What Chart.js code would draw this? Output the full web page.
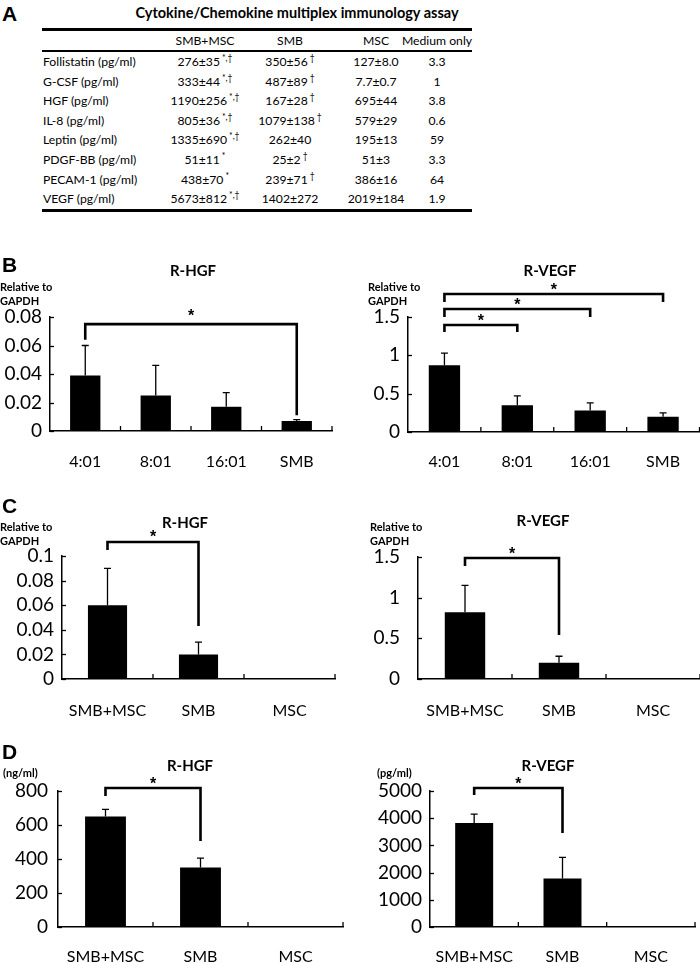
<!DOCTYPE html>
<html><head><meta charset="utf-8">
<script src="https://cdn.jsdelivr.net/npm/chart.js@4.4.0/dist/chart.umd.min.js"></script>
<style>
html,body{margin:0;padding:0;background:#fff;}
body{width:700px;height:963px;position:relative;overflow:hidden;font-family:Lato,'Open Sans',sans-serif;color:#000;}
.t{position:absolute;white-space:nowrap;z-index:2;line-height:1;}
.c{transform:translate(-50%,-50%);}
.m{transform:translateY(-50%);}
.letter{font-family:'Liberation Sans',Arial,sans-serif;font-weight:bold;font-size:21px;}
.ttl{font-weight:bold;font-size:15px;}
.ttlA{font-weight:bold;font-size:14.5px;}
.unit{font-weight:bold;font-size:11px;line-height:14px;}
.cell{font-size:12.2px;}
.sup{font-size:8.5px;position:relative;top:-5px;margin-left:2px;}
.rule{position:absolute;background:#000;z-index:2;}
canvas{position:absolute;z-index:1;}
</style></head><body>
<div id="root"></div>
<script>
// ---------------- data ----------------
const tableTitle = 'Cytokine/Chemokine multiplex immunology assay';
const tableColumns = ['SMB+MSC', 'SMB', 'MSC', 'Medium only'];
const tableRows = ['Follistatin (pg/ml)', 'G-CSF (pg/ml)', 'HGF (pg/ml)', 'IL-8 (pg/ml)', 'Leptin (pg/ml)', 'PDGF-BB (pg/ml)', 'PECAM-1 (pg/ml)', 'VEGF (pg/ml)'];
const colSmbMsc = ['276±35', '333±44', '1190±256', '805±36', '1335±690', '51±11', '438±70', '5673±812'];
const sigSmbMsc = ['*,†', '*,†', '*,†', '*,†', '*,†', '*', '*', '*,†'];
const colSmb = ['350±56', '487±89', '167±28', '1079±138', '262±40', '25±2', '239±71', '1402±272'];
const sigSmb = ['†', '†', '†', '†', '', '†', '†', ''];
const colMsc = ['127±8.0', '7.7±0.7', '695±44', '579±29', '195±13', '51±3', '386±16', '2019±184'];
const colMedium = ['3.3', '1', '3.8', '0.6', '59', '3.3', '64', '1.9'];

const ratioLabels = ['4:01', '8:01', '16:01', 'SMB'];
const groupLabels = ['SMB+MSC', 'SMB', 'MSC'];

const bHgfMean = [0.039, 0.025, 0.017, 0.007];
const bHgfErr  = [0.021, 0.021, 0.010, 0.001];
const bVegfMean = [0.87, 0.35, 0.28, 0.20];
const bVegfErr  = [0.16, 0.12, 0.10, 0.05];
const cHgfMean = [0.060, 0.020, 0];
const cHgfErr  = [0.030, 0.010, 0];
const cVegfMean = [0.82, 0.20, 0];
const cVegfErr  = [0.33, 0.08, 0];
const dHgfMean = [650, 350, 0];
const dHgfErr  = [42, 55, 0];
const dVegfMean = [3820, 1780, 0];
const dVegfErr  = [330, 780, 0];

// significance brackets: [fromIndex, toIndex, lineValue, leftLegEnd, rightLegEnd, asteriskValue]
const bHgfSig = [[0, 3, 0.075, 0.064, 0.011, 0.0835]];
const bVegfSig = [[0, 1, 1.396, 1.304, 1.304, 1.50], [0, 2, 1.604, 1.50, 1.50, 1.71], [0, 3, 1.80, 1.696, 1.696, 1.90]];
const cHgfSig = [[0, 1, 0.1114, 0.1049, 0.0431, 0.119]];
const cVegfSig = [[0, 1, 1.488, 1.39, 0.54, 1.59]];
const dHgfSig = [[0, 1, 818, 770, 506, 865]];
const dVegfSig = [[0, 1, 5110, 4853, 3456, 5400]];

// ---------------- layout helpers ----------------
const root = document.getElementById('root');
function txt(html, x, y, cls) {
  const d = document.createElement('div');
  d.className = 't ' + cls;
  d.style.left = x + 'px'; d.style.top = y + 'px';
  d.innerHTML = html;
  root.appendChild(d);
  return d;
}
function rule(x, y, w, h) {
  const d = document.createElement('div');
  d.className = 'rule';
  d.style.left = x + 'px'; d.style.top = y + 'px';
  d.style.width = w + 'px'; d.style.height = h + 'px';
  root.appendChild(d);
}

// ---------------- panel A : table ----------------
txt('A', 2, 3, 'letter');
txt(tableTitle, 297, 13, 'c ttlA');
rule(42, 28, 430, 2.5);
rule(42, 50, 430, 2);
const colX = [205, 290, 376, 437];
tableColumns.forEach((h, i) => txt(h, colX[i], 41, 'c cell'));
const sup = s => s ? '<span class="sup">' + s + '</span>' : '';
tableRows.forEach((r, i) => {
  const y = 62 + i * 19.6;
  txt(r, 43, y, 'm cell');
  txt(colSmbMsc[i] + sup(sigSmbMsc[i]), colX[0], y, 'c cell');
  txt(colSmb[i] + sup(sigSmb[i]), colX[1], y, 'c cell');
  txt(colMsc[i], colX[2], y, 'c cell');
  txt(colMedium[i], colX[3], y, 'c cell');
});
rule(42, 209, 430, 2.5);

// ---------------- panel letters, titles, units ----------------
txt('B', 2, 254, 'letter');
txt('C', 2, 495, 'letter');
txt('D', 2, 741, 'letter');
txt('R-HGF', 193, 270, 'c ttl');
txt('R-VEGF', 550, 270, 'c ttl');
txt('R-HGF', 185, 522, 'c ttl');
txt('R-VEGF', 543, 520, 'c ttl');
txt('R-HGF', 190, 765, 'c ttl');
txt('R-VEGF', 548, 765, 'c ttl');
txt('Relative to<br>GAPDH', 0, 280, 'unit');
txt('Relative to<br>GAPDH', 368, 280, 'unit');
txt('Relative to<br>GAPDH', 0, 520, 'unit');
txt('Relative to<br>GAPDH', 370, 520, 'unit');
txt('(ng/ml)', 3, 766, 'unit');
txt('(pg/ml)', 377, 766, 'unit');

// ---------------- charts ----------------
function fmt(v) { return String(Number(v.toFixed(4))); }

function makeChart(box, labels, mean, err, sig, yMax, yStep) {
  const cv = document.createElement('canvas');
  cv.width = box.w; cv.height = box.h;
  cv.style.left = box.left + 'px'; cv.style.top = box.top + 'px';
  root.appendChild(cv);

  const overlay = {
    id: 'overlay',
    afterDatasetsDraw(chart) {
      const ctx = chart.ctx, xs = chart.scales.x, ys = chart.scales.y, a = chart.chartArea;
      ctx.save();
      ctx.strokeStyle = '#000'; ctx.fillStyle = '#000';
      // error bars (upper)
      ctx.lineWidth = 1.3;
      mean.forEach((m, i) => {
        if (!err[i]) return;
        const px = xs.getPixelForValue(i);
        const y0 = ys.getPixelForValue(m), y1 = ys.getPixelForValue(m + err[i]);
        ctx.beginPath(); ctx.moveTo(px, y0); ctx.lineTo(px, y1);
        ctx.moveTo(px - 3.5, y1); ctx.lineTo(px + 3.5, y1); ctx.stroke();
      });
      // inward tick marks
      ctx.lineWidth = 1.3;
      ys.ticks.forEach(t => {
        const py = Math.round(ys.getPixelForValue(t.value)) + 0.5;
        ctx.beginPath(); ctx.moveTo(a.left, py); ctx.lineTo(a.left + 4, py); ctx.stroke();
      });
      for (let i = 1; i <= labels.length; i++) {
        const px = xs.getPixelForValue(i - 0.5);
        ctx.beginPath(); ctx.moveTo(px, a.bottom); ctx.lineTo(px, a.bottom - 5); ctx.stroke();
      }
      // significance brackets
      ctx.lineWidth = 2.6; ctx.lineJoin = 'miter'; ctx.lineCap = 'butt';
      ctx.font = 'bold 16px "Liberation Sans", Arial, sans-serif';
      ctx.textAlign = 'center'; ctx.textBaseline = 'alphabetic';
      sig.forEach(s => {
        const x0 = xs.getPixelForValue(s[0]), x1 = xs.getPixelForValue(s[1]);
        const yl = ys.getPixelForValue(s[2]);
        ctx.beginPath();
        ctx.moveTo(x0, ys.getPixelForValue(s[3]));
        ctx.lineTo(x0, yl); ctx.lineTo(x1, yl);
        ctx.lineTo(x1, ys.getPixelForValue(s[4]));
        ctx.stroke();
        // asterisk glyph centre placed at the asterisk value
        ctx.fillText('*', (x0 + x1) / 2, ys.getPixelForValue(s[5]) + 9);
      });
      ctx.restore();
    }
  };

  return new Chart(cv, {
    type: 'bar',
    data: {
      labels: labels,
      datasets: [{ data: mean, backgroundColor: '#000', borderWidth: 0, barPercentage: 0.43, categoryPercentage: 1 }]
    },
    options: {
      responsive: false, animation: false, devicePixelRatio: 1,
      layout: { padding: { top: box.padTop, right: box.padRight, left: 0, bottom: 0 } },
      plugins: { legend: { display: false }, tooltip: { enabled: false }, title: { display: false } },
      scales: {
        x: {
          grid: { display: false, drawTicks: false },
          border: { display: true, color: '#000', width: 1.5 },
          ticks: { color: '#000', font: { family: 'Lato', size: 16 }, padding: box.xPad, maxRotation: 0, autoSkip: false },
          afterFit: s => { s.height = box.xH; }
        },
        y: {
          min: 0, max: yMax,
          grid: { display: false, drawTicks: false },
          border: { display: true, color: '#000', width: 1.5 },
          ticks: { stepSize: yStep, autoSkip: false, color: '#000', font: { family: 'Lato', size: 19 }, padding: box.yPad, callback: v => fmt(v) },
          afterFit: s => { s.width = box.yW; }
        }
      }
    },
    plugins: [overlay]
  });
}

makeChart({ left: 0, top: 272, w: 340, h: 204, padTop: 45, padRight: 8, yW: 50, yPad: 8, xH: 45, xPad: 21 },
  ratioLabels, bHgfMean, bHgfErr, bHgfSig, 0.08, 0.02);
makeChart({ left: 350, top: 272, w: 350, h: 204, padTop: 45, padRight: 0, yW: 58, yPad: 8, xH: 44, xPad: 20 },
  ratioLabels, bVegfMean, bVegfErr, bVegfSig, 1.5, 0.5);
makeChart({ left: 0, top: 516, w: 345, h: 209, padTop: 40, padRight: 10, yW: 62, yPad: 8, xH: 46, xPad: 22 },
  groupLabels, cHgfMean, cHgfErr, cHgfSig, 0.1, 0.02);
makeChart({ left: 350, top: 517, w: 350, h: 208, padTop: 40, padRight: 0, yW: 68, yPad: 18, xH: 46, xPad: 22 },
  groupLabels, cVegfMean, cVegfErr, cVegfSig, 1.5, 0.5);
makeChart({ left: 0, top: 751, w: 350, h: 212, padTop: 40, padRight: 7, yW: 58, yPad: 10, xH: 36, xPad: 20 },
  groupLabels, dHgfMean, dHgfErr, dHgfSig, 800, 200);
makeChart({ left: 350, top: 751, w: 350, h: 212, padTop: 40, padRight: 5, yW: 80, yPad: 8, xH: 36, xPad: 20 },
  groupLabels, dVegfMean, dVegfErr, dVegfSig, 5000, 1000);
</script>
</body></html>
